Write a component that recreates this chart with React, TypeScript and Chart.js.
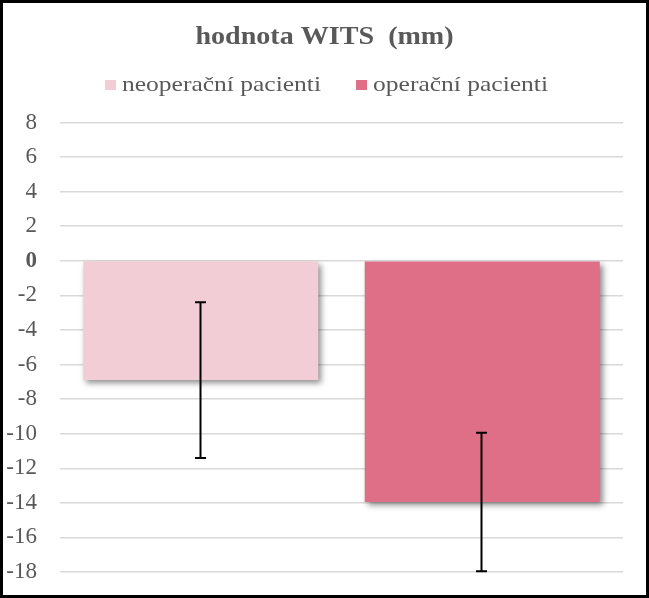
import { useEffect, useRef } from "react";
import { Chart, registerables } from "chart.js";

Chart.register(...registerables);

const TITLE = "hodnota WITS  (mm)";
const CATEGORIES = [""];
const SERIES_NAMES = ["neoperační pacienti", "operační pacienti"];
const SERIES_VALUES = [-6.9, -13.95];
const ERROR_VALUES = [4.5, 4.0];
const SERIES_COLORS = ["#F2CDD6", "#DF6E87"];
const Y_MIN = -18;
const Y_MAX = 8;
const Y_STEP = 2;

const FONT = '"Liberation Serif", "Times New Roman", serif';
const TEXT_COLOR = "#595959";

function scaledText(ctx: any, text: string, x: number, y: number, sx: number) {
  ctx.save();
  ctx.translate(x, y);
  ctx.scale(sx, 1);
  ctx.fillText(text, 0, 0);
  ctx.restore();
  return ctx.measureText(text).width * sx;
}

const decorPlugin = {
  id: "decor",
  beforeDatasetsDraw(chart: any) {
    const ctx = chart.ctx;
    ctx.save();
    ctx.shadowColor = "rgba(0,0,0,0.45)";
    ctx.shadowBlur = 6;
    ctx.shadowOffsetX = 3;
    ctx.shadowOffsetY = 3;
  },
  afterDatasetsDraw(chart: any) {
    const ctx = chart.ctx;
    ctx.restore();
    const y = chart.scales.y;
    chart.data.datasets.forEach((ds: any, i: number) => {
      const meta = chart.getDatasetMeta(i);
      meta.data.forEach((bar: any, j: number) => {
        const v = ds.data[j] as number;
        const e = ERROR_VALUES[i];
        const x = Math.round(bar.x) - 0.5;
        const yTop = y.getPixelForValue(v + e);
        const yBot = y.getPixelForValue(v - e);
        ctx.save();
        ctx.strokeStyle = "#000";
        ctx.lineWidth = 2;
        ctx.beginPath();
        ctx.moveTo(x, yTop);
        ctx.lineTo(x, yBot);
        ctx.moveTo(x - 5.5, yTop);
        ctx.lineTo(x + 5.5, yTop);
        ctx.moveTo(x - 5.5, yBot);
        ctx.lineTo(x + 5.5, yBot);
        ctx.stroke();
        ctx.restore();
      });
    });
  },
  afterDraw(chart: any) {
    const ctx = chart.ctx;
    const W = chart.width;
    ctx.save();
    ctx.textBaseline = "alphabetic";
    ctx.textAlign = "left";
    // title
    ctx.fillStyle = TEXT_COLOR;
    ctx.font = `bold 26px ${FONT}`;
    const tsx = 1.08;
    const tw = ctx.measureText(TITLE).width * tsx;
    scaledText(ctx, TITLE, W / 2 - tw / 2, 41, tsx);
    // legend
    ctx.font = `22px ${FONT}`;
    const lsx = 1.16;
    const gapBox = 6;
    const gapItem = 35;
    const boxW = 11;
    const boxH = 10;
    let total = 0;
    chart.data.datasets.forEach((ds: any, i: number) => {
      total += boxW + gapBox + ctx.measureText(ds.label).width * lsx;
      if (i > 0) total += gapItem;
    });
    let x = W / 2 - total / 2 + 2;
    const base = 88;
    chart.data.datasets.forEach((ds: any) => {
      ctx.fillStyle = ds.backgroundColor;
      ctx.fillRect(x, base - 11, boxW, boxH);
      x += boxW + gapBox;
      ctx.fillStyle = TEXT_COLOR;
      x += scaledText(ctx, ds.label, x, base, lsx) + gapItem;
    });
    ctx.restore();
  },
};

export default function App() {
  const ref = useRef<HTMLCanvasElement | null>(null);
  useEffect(() => {
    if (!ref.current) return;
    const chart = new Chart(ref.current, {
      type: "bar",
      data: {
        labels: CATEGORIES,
        datasets: SERIES_NAMES.map((name, i) => ({
          label: name,
          data: [SERIES_VALUES[i]],
          backgroundColor: SERIES_COLORS[i],
          borderWidth: 0,
          barPercentage: 0.835,
          categoryPercentage: 1,
        })),
      },
      options: {
        responsive: false,
        animation: false,
        layout: { padding: { top: 119.5, left: 0, right: 23, bottom: 23 } },
        plugins: {
          legend: { display: false },
          title: { display: false },
          tooltip: { enabled: false },
        },
        scales: {
          x: { display: false },
          y: {
            min: Y_MIN,
            max: Y_MAX,
            afterFit: (s: any) => {
              s.width = 57;
            },
            ticks: {
              stepSize: Y_STEP,
              padding: 0,
              color: TEXT_COLOR,
              font: (c: any) => ({
                family: FONT,
                size: 23,
                weight: c.tick && c.tick.value === 0 ? "bold" : "normal",
              }),
            },
            grid: {
              color: "#d9d9d9",
              lineWidth: 1.5,
              drawTicks: true,
              tickLength: 23,
              tickColor: "rgba(0,0,0,0)",
            },
            border: { display: false },
          },
        },
      },
      plugins: [decorPlugin],
    } as any);
    return () => chart.destroy();
  }, []);
  return (
    <div
      style={{
        position: "fixed",
        left: 0,
        top: 0,
        width: 649,
        height: 598,
        boxSizing: "border-box",
        border: "3px solid #000",
        background: "#fff",
      }}
    >
      <canvas ref={ref} width={643} height={592} style={{ display: "block" }} />
    </div>
  );
}
